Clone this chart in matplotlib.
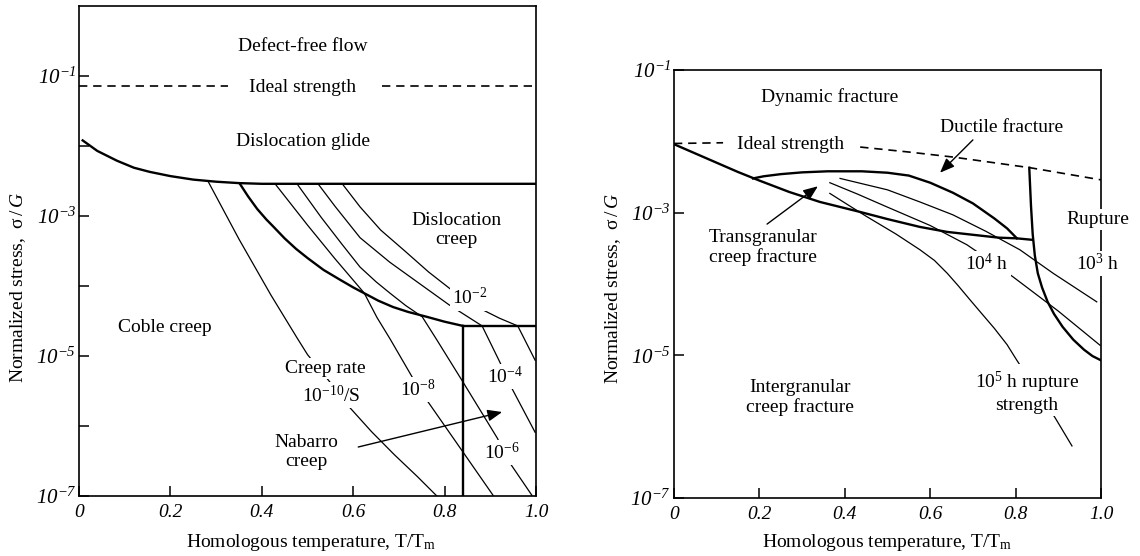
import numpy as np
import matplotlib
matplotlib.use("Agg")
import matplotlib.pyplot as plt
from matplotlib.ticker import NullLocator

plt.rcParams['font.family'] = ['Liberation Serif', 'DejaVu Serif']
# serif maths; the "sf" slot is used for the slanted tick numbers
plt.rcParams['mathtext.fontset'] = 'custom'
plt.rcParams['mathtext.rm'] = 'Liberation Serif'
plt.rcParams['mathtext.it'] = 'Liberation Serif:italic'
plt.rcParams['mathtext.bf'] = 'Liberation Serif:bold'
plt.rcParams['mathtext.sf'] = 'Liberation Serif:italic'

# --- deformation mechanism map (log10 of sigma/G against T/Tm) ---
glide_x = [0.008, 0.04, 0.083, 0.12, 0.155, 0.2, 0.25, 0.3, 0.35, 0.4, 1.0]
glide_s = [-1.92, -2.07, -2.21, -2.31, -2.37, -2.43, -2.48, -2.51, -2.53, -2.54, -2.54]

coble_x = [0.352, 0.37, 0.39, 0.41, 0.425, 0.45, 0.475, 0.5, 0.535, 0.571, 0.6,
           0.626, 0.655, 0.687, 0.72, 0.761, 0.80, 0.84]
coble_s = [-2.54, -2.72, -2.90, -3.05, -3.15, -3.32, -3.47, -3.60, -3.77, -3.91, -4.02,
           -4.11, -4.21, -4.30, -4.37, -4.44, -4.51, -4.57]

nab_top_x = [0.84, 1.0]
nab_top_s = [-4.57, -4.57]
nab_side_x = [0.84, 0.84]
nab_side_s = [-4.57, -7.0]

ideal_l1_x = [0.0, 0.326]
ideal_l2_x = [0.663, 1.0]
ideal_l_s = [-1.14, -1.14]

# strain-rate contours, 1/s
rate_e10_x = [0.282, 0.35, 0.42, 0.477, 0.50, 0.55, 0.593, 0.64, 0.69, 0.74, 0.783]
rate_e10_s = [-2.50, -3.33, -4.13, -4.74, -4.98, -5.38, -5.74, -6.08, -6.41, -6.72, -7.0]
rate_e8_x = [0.429, 0.50, 0.56, 0.624, 0.652, 0.681, 0.729, 0.761, 0.84, 0.906]
rate_e8_s = [-2.54, -3.13, -3.61, -4.10, -4.45, -4.76, -5.30, -5.63, -6.37, -6.99]
rate_e6_x = [0.477, 0.53, 0.575, 0.615, 0.65, 0.68, 0.715, 0.751, 0.783, 0.84, 0.915,
             0.943, 0.991]
rate_e6_s = [-2.54, -3.02, -3.40, -3.73, -3.94, -4.10, -4.28, -4.44, -4.77, -5.37, -6.17,
             -6.53, -6.99]
rate_e4_x = [0.523, 0.56, 0.615, 0.68, 0.746, 0.81, 0.882, 0.921, 0.947, 0.998]
rate_e4_s = [-2.54, -2.86, -3.31, -3.66, -3.97, -4.27, -4.57, -5.09, -5.46, -6.09]
rate_e2_x = [0.576, 0.615, 0.66, 0.713, 0.765, 0.812, 0.871, 0.92, 0.96, 0.998]
rate_e2_s = [-2.54, -2.87, -3.20, -3.50, -3.80, -4.04, -4.30, -4.46, -4.57, -5.06]

# --- fracture mechanism map ---
ideal_r1_x = [0.0, 0.115]
ideal_r1_s = [-2.03, -2.02]
ideal_r2_x = [0.436, 0.55, 0.653, 0.834, 1.0]
ideal_r2_s = [-2.08, -2.15, -2.22, -2.37, -2.54]

inter_x = [0.0, 0.05, 0.1, 0.15, 0.2, 0.27, 0.342, 0.436, 0.5, 0.576, 0.64, 0.70,
           0.76, 0.803, 0.838]
inter_s = [-2.04, -2.17, -2.30, -2.43, -2.55, -2.71, -2.85, -2.99, -3.09, -3.20, -3.27,
           -3.31, -3.35, -3.36, -3.38]

trans_x = [0.185, 0.21, 0.25, 0.30, 0.36, 0.44, 0.50, 0.55, 0.60, 0.653, 0.70, 0.75,
           0.78, 0.803]
trans_s = [-2.52, -2.49, -2.46, -2.435, -2.42, -2.42, -2.44, -2.48, -2.58, -2.72, -2.87,
           -3.08, -3.22, -3.36]

rupt_x = [0.832, 0.836, 0.840, 0.845, 0.852, 0.862, 0.875, 0.89, 0.91, 0.935, 0.96,
          0.98, 1.0]
rupt_s = [-2.37, -2.90, -3.30, -3.60, -3.85, -4.05, -4.25, -4.42, -4.60, -4.78, -4.92,
          -5.01, -5.07]

# rupture-time contours, hours
life_e3_x = [0.389, 0.50, 0.576, 0.653, 0.73, 0.81, 0.888, 0.99]
life_e3_s = [-2.52, -2.68, -2.85, -3.03, -3.26, -3.52, -3.85, -4.25]
life_e4_x = [0.365, 0.43, 0.499, 0.60, 0.686, 0.74, 0.794, 0.90, 0.998]
life_e4_s = [-2.58, -2.74, -2.92, -3.18, -3.45, -3.67, -3.90, -4.38, -4.86]
life_e5_x = [0.365, 0.41, 0.45, 0.52, 0.576, 0.61, 0.64, 0.665, 0.693, 0.72, 0.75,
             0.78, 0.803, 0.85, 0.892, 0.932]
life_e5_s = [-2.73, -2.90, -3.05, -3.30, -3.52, -3.67, -3.85, -4.02, -4.22, -4.41, -4.62,
             -4.85, -5.07, -5.50, -5.87, -6.27]

x_ticks = [0, 0.2, 0.4, 0.6, 0.8, 1.0]
x_labels = ['0', '0.2', '0.4', '0.6', '0.8', '1.0']

FS = 14
THICK = 1.7
THIN = 0.9
DASH = (0, (5, 3.5))


def curve(ax, x, s, lw, **kw):
    ax.plot(x, 10.0 ** np.asarray(s), color='black', lw=lw, zorder=2, **kw)


def label(ax, x, s, txt, mask=False, **kw):
    box = dict(facecolor='white', edgecolor='none', pad=1.5) if mask else None
    ax.text(x, 10.0 ** s, txt, ha='center', va='center', fontsize=FS,
            bbox=box, zorder=5, **kw)


def arrow(ax, x0, s0, x1, s1):
    ax.annotate('', xy=(x1, 10.0 ** s1), xytext=(x0, 10.0 ** s0),
                arrowprops=dict(arrowstyle='-|>,head_length=0.55,head_width=0.22',
                                color='black', lw=1.0, mutation_scale=16,
                                shrinkA=0, shrinkB=0), zorder=5)


def decade(k):
    return r'$\mathsf{10^{%d}}$' % k


def frame(ax, ylim, ytick_vals, ytick_labels, ylab_xy, xlab_xy):
    ax.set_yscale('log')
    ax.set_xlim(0, 1)
    ax.set_ylim(*ylim)
    ax.set_xticks(x_ticks, x_labels, fontstyle='italic', fontsize=FS)
    ax.set_yticks(ytick_vals, ytick_labels, fontsize=15)
    ax.yaxis.set_minor_locator(NullLocator())
    ax.tick_params(direction='in', length=7, width=1.1)
    ax.tick_params(axis='y', pad=2)
    ax.tick_params(axis='x', pad=6)
    for sp in ax.spines.values():
        sp.set_linewidth(1.2)
    ax.set_ylabel(r'Normalized stress,  $\mathrm{\sigma}\,/\,G$', fontsize=FS, va='center')
    ax.yaxis.set_label_coords(*ylab_xy)
    ax.set_xlabel(r'Homologous temperature, T/T$_\mathrm{m}$', fontsize=FS, va='center')
    ax.xaxis.set_label_coords(*xlab_xy)


fig = plt.figure(figsize=(11.4, 5.56), dpi=100)
ax1 = fig.add_axes([0.0693, 0.1079, 0.4009, 0.8813])
ax2 = fig.add_axes([0.5912, 0.1043, 0.3746, 0.7698])

# left: deformation mechanisms
frame(ax1, (1e-7, 1e0), [10.0 ** k for k in range(-7, 0)],
      [decade(k) if k % 2 else '' for k in range(-7, 0)],
      (-0.1335, 0.4265), (0.508, -0.094))

curve(ax1, ideal_l1_x, ideal_l_s, 1.2, ls=DASH)
curve(ax1, ideal_l2_x, ideal_l_s, 1.2, ls=DASH)
curve(ax1, glide_x, glide_s, THICK)
curve(ax1, coble_x, coble_s, THICK)
curve(ax1, nab_top_x, nab_top_s, THICK)
curve(ax1, nab_side_x, nab_side_s, THICK)
for xs, ss in [(rate_e10_x, rate_e10_s), (rate_e8_x, rate_e8_s), (rate_e6_x, rate_e6_s),
               (rate_e4_x, rate_e4_s), (rate_e2_x, rate_e2_s)]:
    curve(ax1, xs, ss, THIN)

label(ax1, 0.49, -0.58, 'Defect-free flow')
label(ax1, 0.49, -1.17, 'Ideal strength')
label(ax1, 0.49, -1.94, 'Dislocation glide')
label(ax1, 0.825, -3.2, 'Dislocation\ncreep')
label(ax1, 0.855, -4.17, r'10$^{-2}$', mask=True)
label(ax1, 0.188, -4.59, 'Coble creep')
label(ax1, 0.538, -5.18, 'Creep rate', mask=True)
label(ax1, 0.553, -5.56, r'10$^{-10}$/S', mask=True)
label(ax1, 0.498, -6.37, 'Nabarro\ncreep')
label(ax1, 0.742, -5.48, r'10$^{-8}$', mask=True)
label(ax1, 0.932, -5.29, r'10$^{-4}$', mask=True)
label(ax1, 0.925, -6.38, r'10$^{-6}$', mask=True)
arrow(ax1, 0.611, -6.30, 0.926, -5.80)

# right: fracture mechanisms
frame(ax2, (1e-7, 1e-1), [1e-7, 1e-5, 1e-3, 1e-1],
      [decade(k) for k in (-7, -5, -3, -1)],
      (-0.143, 0.49), (0.5, -0.103))

curve(ax2, ideal_r1_x, ideal_r1_s, 1.2, ls=DASH)
curve(ax2, ideal_r2_x, ideal_r2_s, 1.2, ls=DASH)
curve(ax2, inter_x, inter_s, THICK)
curve(ax2, trans_x, trans_s, THICK)
curve(ax2, rupt_x, rupt_s, THICK)
for xs, ss in [(life_e3_x, life_e3_s), (life_e4_x, life_e4_s), (life_e5_x, life_e5_s)]:
    curve(ax2, xs, ss, THIN)

label(ax2, 0.365, -1.38, 'Dynamic fracture')
label(ax2, 0.272, -2.04, 'Ideal strength')
label(ax2, 0.768, -1.81, 'Ductile fracture')
label(ax2, 0.208, -3.49, 'Transgranular\ncreep fracture')
label(ax2, 0.295, -5.59, 'Intergranular\ncreep fracture')
label(ax2, 0.993, -3.10, 'Rupture', mask=True)
label(ax2, 0.993, -3.71, r'10$^{3}$ h', mask=True)
label(ax2, 0.733, -3.71, r'10$^{4}$ h', mask=True)
label(ax2, 0.826, -5.51, '10$^{5}$ h rupture\nstrength', mask=True)
arrow(ax2, 0.218, -3.16, 0.337, -2.63)
arrow(ax2, 0.70, -1.98, 0.623, -2.44)

fig.savefig('out.png', dpi=100)
